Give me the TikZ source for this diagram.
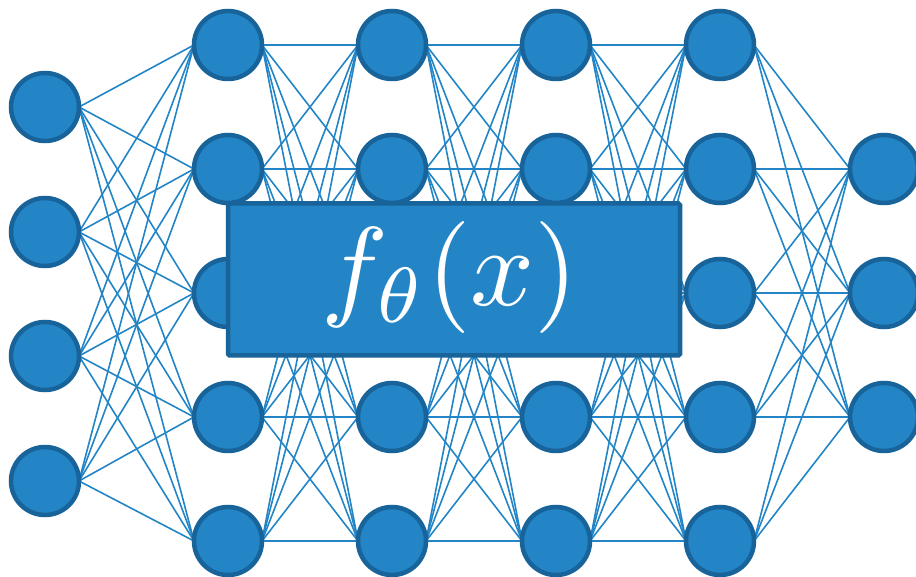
\documentclass[tikz,border=0pt]{standalone}
\usetikzlibrary{backgrounds}
\usepackage{graphicx}
\begin{document}
\begin{tikzpicture}[x=1pt,y=-1pt,
  neuron/.style={circle,draw=nborder,fill=nfill,line width=4.5pt,minimum size=68pt,inner sep=0pt,outer sep=0pt},
  conn/.style={draw=nfill,line width=1.6pt},
  fbox/.style={draw=nborder,fill=nfill,line width=4.5pt,rounded corners=1.5pt,inner sep=0pt,outer sep=0pt,text=white}]
\definecolor{nfill}{HTML}{2385C6}
\definecolor{nborder}{HTML}{17639A}
\useasboundingbox (0,0) rectangle (916,577);
% input layer
\foreach \j/\y in {1/107,2/232,3/356,4/481} \node[neuron] (a\j) at (45,\y) {};
% hidden layers
\foreach \l/\x in {1/228,2/392,3/556,4/720}
  \foreach \j/\y in {1/45,2/169,3/293,4/417,5/541} \node[neuron] (h\l\j) at (\x,\y) {};
% output layer
\foreach \j/\y in {1/169,2/293,3/417} \node[neuron] (o\j) at (884,\y) {};
% connectors
\begin{pgfonlayer}{background}
  \foreach \i in {1,...,4} \foreach \k in {1,...,5} \draw[conn] (a\i.east) -- (h1\k.west);
  \foreach \l/\m in {1/2,2/3,3/4}
    \foreach \i in {1,...,5} \foreach \k in {1,...,5} \draw[conn] (h\l\i.east) -- (h\m\k.west);
  \foreach \i in {1,...,5} \foreach \k in {1,...,3} \draw[conn] (h4\i.east) -- (o\k.west);
\end{pgfonlayer}
% function box
\node[fbox,minimum width=452pt,minimum height=152pt] (f) at (454,279.5) {};
\node[text=white,inner sep=0pt] (ft) at (450,278) {\scalebox{11.2}{$f_\theta(x)$}};
\end{tikzpicture}
\end{document}
